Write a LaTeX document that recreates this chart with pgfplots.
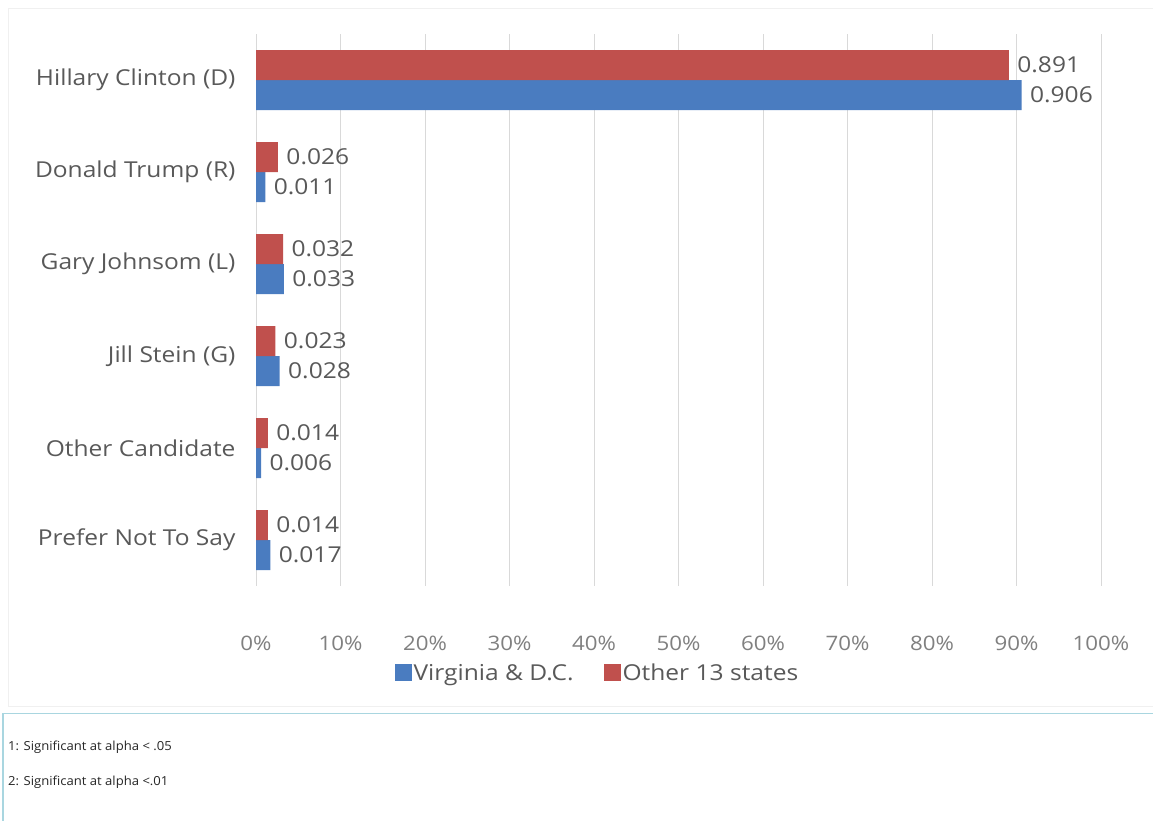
\documentclass[border=0pt]{standalone}
\usepackage{fontspec}
\setmainfont{Open Sans}
\newfontfamily\wide[FakeStretch=1.12]{Open Sans}
\newfontfamily\footf[FakeStretch=1.05]{Open Sans}
\usepackage{pgfplots}
\pgfplotsset{compat=1.18}
\definecolor{vblue}{HTML}{4A7CC0}
\definecolor{ored}{HTML}{C0504D}
\definecolor{txt}{HTML}{595959}
\definecolor{tickc}{HTML}{808080}
\definecolor{gridc}{HTML}{D9D9D9}
\definecolor{foot}{HTML}{A9D6E0}
\begin{document}
\begin{tikzpicture}
\useasboundingbox[fill=white] (0bp,0bp) rectangle (1153bp,-821bp);
\draw[gray!12, line width=1bp] (8bp,-8bp) rectangle (1165bp,-706bp);
\begin{axis}[
  at={(256bp,-34bp)}, anchor=north west, scale only axis,
  width=845bp, height=552bp,
  xbar, bar width=30bp,
  xmin=0, xmax=1, ymin=-0.5, ymax=5.5, y dir=reverse,
  ytick={0,1,2,3,4,5},
  yticklabels={Hillary Clinton (D), Donald Trump (R), Gary Johnsom (L), Jill Stein (G), Other Candidate, Prefer Not To Say},
  xtick={0,0.1,0.2,0.3,0.4,0.5,0.6,0.7,0.8,0.9,1},
  xticklabels={0\%,10\%,20\%,30\%,40\%,50\%,60\%,70\%,80\%,90\%,100\%},
  xmajorgrids, grid style={gridc, line width=1bp},
  axis line style={draw=none}, major tick length=0pt,
  xticklabel style={font=\wide\fontsize{20}{24}\selectfont, text=tickc, yshift=-47bp},
  yticklabel style={font=\wide\fontsize{22}{26}\selectfont, text=txt, xshift=-17bp},
  nodes near coords={\pgfmathprintnumber[fixed, fixed zerofill, precision=3, assume math mode=true]{\pgfplotspointmeta}},
  nodes near coords style={font=\wide\fontsize{22}{26}\selectfont, text=txt, anchor=west, xshift=5bp},
  legend image code/.code={\fill[#1] (0bp,-8bp) rectangle (17bp,9bp);},
  legend style={at={(0.404,-0.158)}, anchor=center, draw=none, fill=none,
    legend columns=-1, font=\wide\fontsize{22}{26}\selectfont, text=txt,
    /tikz/every even column/.append style={column sep=28bp},
    /tikz/every odd column/.append style={column sep=0bp}},
  legend cell align=left,
]
\addplot[fill=vblue, draw=none, bar shift=-15bp] coordinates {
  (0.906,0) (0.011,1) (0.033,2) (0.028,3) (0.006,4) (0.017,5)};
\addplot[fill=ored, draw=none, bar shift=15bp] coordinates {
  (0.891,0) (0.026,1) (0.032,2) (0.023,3) (0.014,4) (0.014,5)};
\legend{Virginia \& D.C., Other 13 states}
\end{axis}
\draw[foot, line width=1.5bp] (3bp,-830bp) -- (3bp,-713.5bp) -- (1165bp,-713.5bp);
\node[anchor=west, font=\footf\fontsize{12.5}{15}\selectfont, text=black!85, inner sep=0] at (8bp,-747bp) {1: Significant at alpha < .05};
\node[anchor=west, font=\footf\fontsize{12.5}{15}\selectfont, text=black!85, inner sep=0] at (8bp,-782bp) {2: Significant at alpha <.01};
\end{tikzpicture}
\end{document}
